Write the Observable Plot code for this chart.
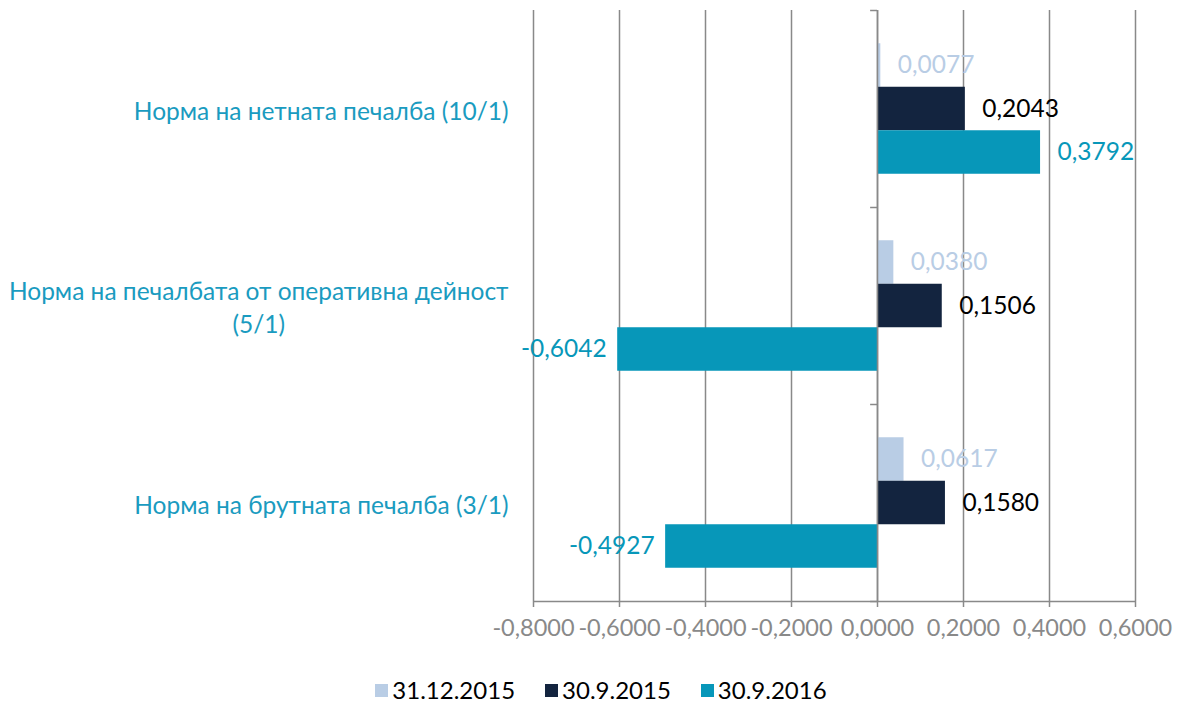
<!DOCTYPE html>
<html>
<head>
<meta charset="utf-8">
<script src="https://cdn.jsdelivr.net/npm/d3@7"></script>
<script src="https://cdn.jsdelivr.net/npm/@observablehq/plot@0.6"></script>
<style>
  html, body { margin: 0; padding: 0; background: #fff; }
  body { width: 1181px; height: 702px; overflow: hidden; font-family: Lato, "Open Sans", sans-serif; }
  #legend { display: flex; justify-content: center; align-items: center; margin-top: 23px; padding-left: 21px; font-size: 24px; line-height: 24px; color: #000; }
  #legend .item { display: flex; align-items: center; margin: 0 15px; }
  #legend .sw { width: 13px; height: 13px; margin-right: 4px; }
</style>
</head>
<body>
<div id="chart"></div>
<div id="legend"></div>
<script>
const categories = [
  "Норма на нетната печалба (10/1)",
  "Норма на печалбата от оперативна дейност\n(5/1)",
  "Норма на брутната печалба (3/1)"
];
const seriesNames = ["31.12.2015", "30.9.2015", "30.9.2016"];
const seriesColors = ["#B9CDE5", "#13243F", "#0797B9"];
const labelColors = ["#B9CDE5", "#000000", "#0797B9"];
const values31122015 = [0.0077, 0.0380, 0.0617];
const values3092015 = [0.2043, 0.1506, 0.1580];
const values3092016 = [0.3792, -0.6042, -0.4927];
const xTicks = [-0.8, -0.6, -0.4, -0.2, 0, 0.2, 0.4, 0.6];

const seriesValues = [values31122015, values3092015, values3092016];
const rows = seriesNames.map((s, si) => categories.map((c, ci) => ({series: s, si, category: c, value: seriesValues[si][ci]})));

const fmt = d3.formatLocale({decimal: ",", thousands: " ", grouping: [3], currency: ["", ""], minus: "-"}).format(".4f");

const W = 1181, H = 655, mT = 10, mB = 54, mL = 533, mR = 46;
const band = (H - mT - mB) / categories.length;
const barH = 43.5;
const outer = (band - 3 * barH) / 2;
const gray = "#898989";
const labelFont = 24.5;

// measure text for centering multi-line category labels
const ctx = document.createElement("canvas").getContext("2d");
ctx.font = `${labelFont}px Lato, 'Open Sans', sans-serif`;

const marks = [
  Plot.gridX(xTicks, {stroke: gray, strokeOpacity: 1, strokeWidth: 1.5}),
  // bottom axis line
  Plot.ruleY([categories[categories.length - 1]], {x1: xTicks[0], x2: xTicks[xTicks.length - 1], dy: band / 2, stroke: gray, strokeWidth: 1.5}),
];

rows.forEach((data, si) => {
  marks.push(Plot.barX(data, {
    x1: 0, x2: "value", y: "category", fill: seriesColors[si],
    insetTop: outer + si * barH, insetBottom: band - outer - (si + 1) * barH
  }));
});

// zero axis line and category boundary ticks
marks.push(Plot.ruleX([0], {stroke: gray, strokeWidth: 1.5}));
marks.push(Plot.ruleY(categories, {y: d => d, x1: -0.016, x2: 0, dy: -band / 2, stroke: gray, strokeWidth: 1.5}));
marks.push(Plot.ruleY([categories[categories.length - 1]], {y: d => d, x1: -0.016, x2: 0, dy: band / 2, stroke: gray, strokeWidth: 1.5}));

rows.forEach((data, si) => {
  const dyc = outer + (si + 0.5) * barH - band / 2;
  marks.push(Plot.text(data.filter(d => d.value >= 0), {
    x: "value", y: "category", text: d => fmt(d.value), dx: 17, dy: dyc,
    textAnchor: "start", fill: labelColors[si], fontSize: labelFont
  }));
  marks.push(Plot.text(data.filter(d => d.value < 0), {
    x: "value", y: "category", text: d => fmt(d.value), dx: -11, dy: dyc,
    textAnchor: "end", fill: labelColors[si], fontSize: labelFont
  }));
});

// category labels: block right-aligned 25px left of plot, lines centered within block
categories.forEach(c => {
  const w = d3.max(c.split("\n"), l => ctx.measureText(l).width);
  marks.push(Plot.text([c], {
    x: xTicks[0], y: d => d, text: d => d, textAnchor: "middle", lineAnchor: "middle",
    dx: -25 - w / 2, fill: "#1A9BC0", fontSize: labelFont, lineHeight: 1.35
  }));
});

marks.push(Plot.axisX(xTicks, {tickSize: 6, tickPadding: 12, tickFormat: fmt, fontSize: 23.5, color: gray, stroke: gray, strokeWidth: 1.5, strokeOpacity: 1, label: null}));

const chart = Plot.plot({
  width: W, height: H,
  marginTop: mT, marginBottom: mB, marginLeft: mL, marginRight: mR,
  style: {fontFamily: "Lato, 'Open Sans', sans-serif", background: "#fff", overflow: "visible"},
  x: {domain: [xTicks[0], xTicks[xTicks.length - 1]], axis: null},
  y: {domain: categories, padding: 0, axis: null},
  marks
});
document.getElementById("chart").appendChild(chart);

const legend = document.getElementById("legend");
seriesNames.forEach((s, i) => {
  const it = document.createElement("div");
  it.className = "item";
  it.innerHTML = `<span class="sw" style="background:${seriesColors[i]}"></span><span>${s}</span>`;
  legend.appendChild(it);
});
</script>
</body>
</html>
